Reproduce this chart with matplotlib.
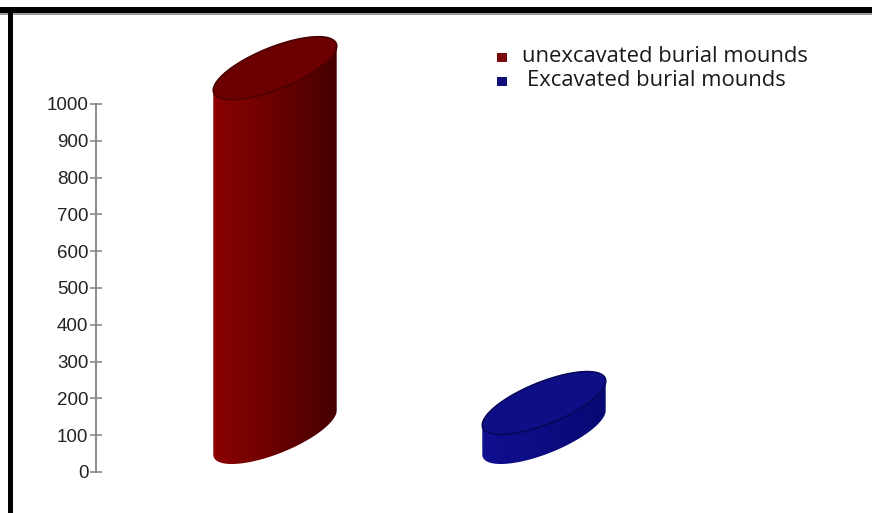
import numpy as np
import matplotlib
matplotlib.use("Agg")
import matplotlib.pyplot as plt
from matplotlib.patches import Polygon, Rectangle

# --- data -------------------------------------------------------------
series_names = ["unexcavated burial mounds", "Excavated burial mounds"]
values = [990, 80]
y_ticks = [0, 100, 200, 300, 400, 500, 600, 700, 800, 900, 1000]

side_light = ["#8c0202", "#101090"]
side_dark = ["#470000", "#080874"]
top_face = ["#6c0000", "#0e0e86"]
rim = ["#4a0000", "#06065a"]
legend_colors = ["#7a0a0a", "#10107a"]

W, H, DPI = 872, 513, 100
fig = plt.figure(figsize=(W / DPI, H / DPI), dpi=DPI)
fig.patch.set_facecolor("white")

# axes placement in pixels: spine at x=96, zero at y=472
ax_left, ax_right, ax_bottom, ax_top = 96, 860, 472, 20
ax = fig.add_axes([ax_left / W, 1 - ax_bottom / H,
                   (ax_right - ax_left) / W, (ax_bottom - ax_top) / H])
px_per_unit_y = 36.8 / 100.0
px_per_cat = 269.0
x0_px = 275.0
xmin = -(x0_px - ax_left) / px_per_cat
ax.set_xlim(xmin, xmin + (ax_right - ax_left) / px_per_cat)
ax.set_ylim(0, (ax_bottom - ax_top) / px_per_unit_y)
ax.patch.set_alpha(0)

for s in ["top", "right", "bottom"]:
    ax.spines[s].set_visible(False)
ax.spines["left"].set_bounds(0, 1000)
ax.spines["left"].set_color("#8a8a8a")
ax.spines["left"].set_linewidth(1.4)
ax.set_xticks([])
ax.set_yticks(y_ticks)
ax.set_yticklabels([str(t) for t in y_ticks])
ax.tick_params(axis="y", direction="inout", length=9, width=1.2,
               color="#8a8a8a", labelsize=13.5, pad=1, labelcolor="#222222")
for lab in ax.get_yticklabels():
    lab.set_family("Liberation Sans")

# tilted ellipse for the cylinder caps (pixel sizes, y pointing up)
a_px, b_px, theta = 66.0, 21.0, np.deg2rad(22)
t = np.linspace(0, 2 * np.pi, 400, endpoint=False)
ex = a_px * np.cos(t) * np.cos(theta) - b_px * np.sin(t) * np.sin(theta)
ey = a_px * np.cos(t) * np.sin(theta) + b_px * np.sin(t) * np.cos(theta)
ex_d = ex / px_per_cat
ey_d = ey / px_per_unit_y
half_y = np.abs(ey).max()
floor = (half_y + 8) / px_per_unit_y   # front rim rests just above zero

i_left, i_right = int(np.argmin(ex)), int(np.argmax(ex))


def arc(i_from, i_to):
    n = len(t)
    idx = [i_from]
    i = i_from
    while i != i_to:
        i = (i + 1) % n
        idx.append(i)
    return np.array(idx)


arc_a = arc(i_left, i_right)            # left -> right
arc_b = arc(i_right, i_left)[::-1]      # also left -> right
front = arc_a if ey[arc_a].mean() < ey[arc_b].mean() else arc_b

for k, v in enumerate(values):
    cx = k
    yb = floor
    yt = floor + v
    bot_x = cx + ex_d[front]
    bot_y = yb + ey_d[front]
    top_x = cx + ex_d[front][::-1]
    top_y = yt + ey_d[front][::-1]
    side_x = np.concatenate([bot_x, top_x])
    side_y = np.concatenate([bot_y, top_y])
    side = Polygon(np.column_stack([side_x, side_y]), closed=True,
                   facecolor="none", edgecolor="none")
    ax.add_patch(side)

    c1 = np.array(matplotlib.colors.to_rgb(side_light[k]))
    c2 = np.array(matplotlib.colors.to_rgb(side_dark[k]))
    g = np.linspace(0, 1, 256)[None, :, None]
    grad = c1[None, None, :] * (1 - g) + c2[None, None, :] * g
    im = ax.imshow(grad, extent=[side_x.min(), side_x.max(), side_y.min(), side_y.max()],
                   aspect="auto", interpolation="bilinear", zorder=2)
    im.set_clip_path(side)

    top = Polygon(np.column_stack([cx + ex_d, yt + ey_d]), closed=True,
                  facecolor=top_face[k], edgecolor=rim[k], linewidth=1.2, zorder=3)
    ax.add_patch(top)

ax.set_xlim(xmin, xmin + (ax_right - ax_left) / px_per_cat)
ax.set_ylim(0, (ax_bottom - ax_top) / px_per_unit_y)

# legend
legend_rows = [(522, 62, 497, 53), (527, 86, 497, 77)]
for name, col, (tx, ty, mx, my) in zip(series_names, legend_colors, legend_rows):
    fig.text(tx / W, 1 - ty / H, name, fontsize=15.8, family="Open Sans",
             color="#1a1a1a", va="baseline", ha="left")
    fig.patches.append(Rectangle((mx / W, 1 - (my + 9) / H), 10 / W, 9 / H,
                                 transform=fig.transFigure, facecolor=col,
                                 edgecolor="none"))

# frame lines along the top and left edges
fig.patches.append(Rectangle((0, 1 - 13 / H), 1, 6 / H, transform=fig.transFigure,
                             facecolor="black", edgecolor="none"))
fig.patches.append(Rectangle((0, 1 - 15 / H), 1, 2 / H, transform=fig.transFigure,
                             facecolor="#9a9a9a", edgecolor="none"))
fig.patches.append(Rectangle((8 / W, 0), 5 / W, 1 - 7 / H, transform=fig.transFigure,
                             facecolor="black", edgecolor="none"))

fig.savefig("out.png", dpi=DPI)
